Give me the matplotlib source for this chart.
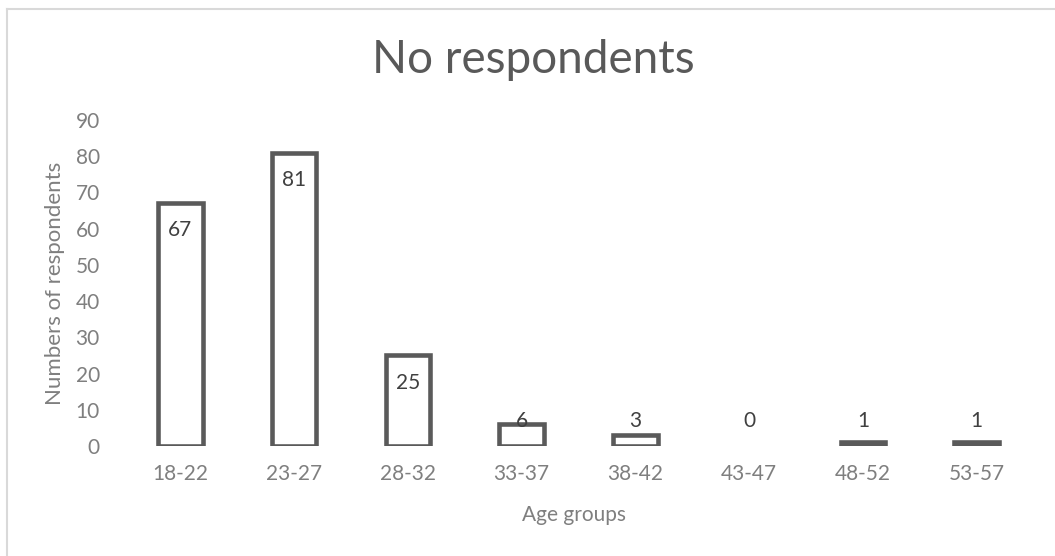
import matplotlib.pyplot as plt
from matplotlib.lines import Line2D

# respondents per age band
age_groups = ["18-22", "23-27", "28-32", "33-37", "38-42", "43-47", "48-52", "53-57"]
respondents = [67, 81, 25, 6, 3, 0, 1, 1]
y_ticks = [0, 10, 20, 30, 40, 50, 60, 70, 80, 90]

plt.rcParams["font.family"] = ["Lato", "DejaVu Sans"]

W, H = 1055, 556
fig = plt.figure(figsize=(W / 100, H / 100), dpi=100)
ax = fig.add_axes([123.5 / W, 1 - 446 / H, 910 / W, 326 / H])

x = range(len(age_groups))
# empty bands get no outline at all
edge_w = [3.3 if v else 0 for v in respondents]
ax.bar(x, respondents, width=0.39, color="white", edgecolor="#5a5a5a",
       linewidth=edge_w, zorder=2)

# value labels sit just inside the top of each bar, or above the base if too short
for xi, v in zip(x, respondents):
    ax.text(xi, max(v - 7.5, 7.0), str(v), ha="center", va="center",
            fontsize=15, color="#404040", zorder=3)

ax.set_xlim(-0.5, len(age_groups) - 0.5)
ax.set_ylim(0, 90)
ax.set_yticks(y_ticks)
ax.set_xticks(list(x))
ax.set_xticklabels(age_groups)
ax.tick_params(axis="both", length=0, labelsize=15, labelcolor="#7f7f7f")
ax.tick_params(axis="x", pad=13)
ax.tick_params(axis="y", pad=17)
for s in ax.spines.values():
    s.set_visible(False)

ax.set_ylabel("Numbers of respondents", fontsize=16, color="#7f7f7f", va="center")
ax.yaxis.set_label_coords((55 - 123.5) / 910, 0.5)
ax.set_xlabel("Age groups", fontsize=15, color="#7f7f7f", va="center")
ax.xaxis.set_label_coords((574 - 123.5) / 910, (446 - 515) / 326)

fig.text(533 / W, 1 - 60 / H, "No respondents", ha="center", va="center",
         fontsize=33, color="#595959")

# light chart-area border
bx, by = 6.5 / W, 1 - 8.5 / H
fig.add_artist(Line2D([bx, bx], [by, 0], transform=fig.transFigure, color="#d9d9d9", lw=1.5))
fig.add_artist(Line2D([bx, 1], [by, by], transform=fig.transFigure, color="#d9d9d9", lw=1.5))

fig.savefig("out.png", dpi=100)
